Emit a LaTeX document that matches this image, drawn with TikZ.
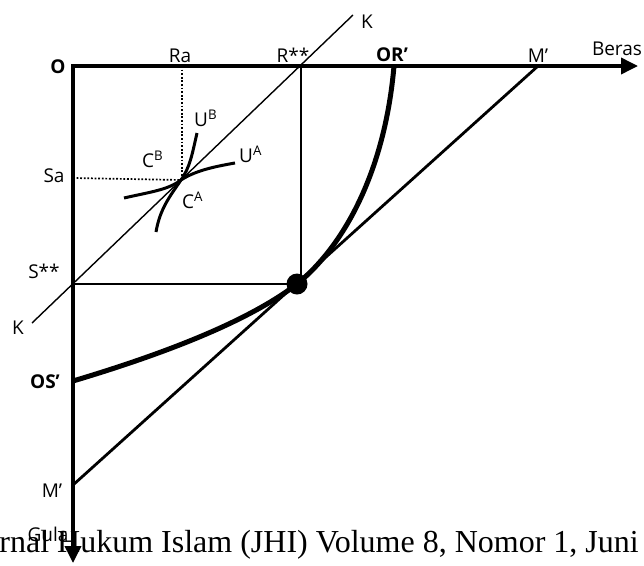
\documentclass[tikz,border=0pt]{standalone}
\usepackage{fontspec}
\setmainfont{Open Sans}
\newfontfamily\footfont{Liberation Serif}
\usetikzlibrary{arrows.meta}
\begin{document}
\begin{tikzpicture}[x=1pt,y=-1pt,
  axisline/.style={line width=3.6pt,line join=miter,{Triangle[length=17pt,width=16pt]}-{Triangle[length=17pt,width=16pt]}},
  thinline/.style={line width=1.8pt},
  kline/.style={line width=1.4pt},
  budget/.style={line width=2.8pt},
  ppf/.style={line width=5pt},
  indiff/.style={line width=3pt},
  dotline/.style={line width=1.7pt,dash pattern=on 1.8pt off 1.8pt},
  lab/.style={inner sep=0pt,anchor=base,font=\fontsize{19}{22}\selectfont},
  blab/.style={lab,font=\fontsize{19}{22}\selectfont\bfseries},
  slab/.style={inner sep=0pt,anchor=base west,font=\fontsize{19}{22}\selectfont}
]
\useasboundingbox (0,0) rectangle (644,565);
% key points
\coordinate (O) at (73,66);
\coordinate (xend) at (638,66);
\coordinate (yend) at (73,563);
\coordinate (Rss) at (301,66);
\coordinate (Sss) at (73,284);
\coordinate (Cor) at (301,284);
\coordinate (E) at (297,284);
\coordinate (Ra) at (182,66);
\coordinate (Sa) at (73,178);
\coordinate (T) at (181,180);
\coordinate (Ktop) at (353,15);
\coordinate (Kbot) at (32,323);
\coordinate (ORp) at (394,66);
\coordinate (OSp) at (73,381);
\coordinate (Mx) at (538,66);
\coordinate (My) at (73,485);
\coordinate (UBa) at (197,133);
\coordinate (UBb) at (156,232);
\coordinate (UAa) at (124,198);
\coordinate (UAb) at (235,163);

% box and dotted lines
\draw[thinline] (Rss) -- (Cor);
\draw[thinline] (Sss) -- (E);
\draw[dotline] (Sa) -- (T -| Ra);
\draw[dotline] (Ra) -- (T -| Ra);
% diagonal K
\draw[kline] (Kbot) -- (Ktop);
% budget line
\draw[budget] (My) -- (Mx);
% production frontier
\draw[ppf] (OSp) .. controls (170,352) and (250,320) .. (E)
  .. controls (345,245) and (385,170) .. (ORp);
% indifference curves
\draw[indiff] (UBa) .. controls (192,155) and (190,167) .. (T)
  .. controls (171,195) and (160,208) .. (UBb);
\draw[indiff] (UAa) .. controls (150,192) and (168,190) .. (T)
  .. controls (195,171) and (212,167) .. (UAb);
% axes
\draw[axisline] (xend) -- (O) -- (yend);
% tangency point
\fill (E) circle (10.5pt);

% labels
\node[blab] (lO) at (58,73) {O};
\node[lab] (lRa) at (180,62) {Ra};
\node[lab] (lR) at (293,62) {R**};
\node[blab] (lOR) at (392,61) {OR’};
\node[lab] (lM1) at (538,62) {M’};
\node[lab] (lB) at (617,55) {Beras};
\node[lab] (lK1) at (367,28) {K};
\node[lab] (lSa) at (54,182) {Sa};
\node[lab] (lS) at (44,278) {S**};
\node[lab] (lK2) at (18,334) {K};
\node[blab] (lOS) at (45,388) {OS’};
\node[lab] (lM2) at (52,497) {M’};
\node[lab] (lG) at (48,541) {Gula};
\node[slab] (lUB) at (194,126) {U\textsuperscript{B}};
\node[slab] (lCB) at (142,167) {C\textsuperscript{B}};
\node[slab] (lUA) at (239,162) {U\textsuperscript{A}};
\node[slab] (lCA) at (182,208) {C\textsuperscript{A}};
% footer text
\node[inner sep=0pt,anchor=base east,font=\footfont\fontsize{32}{36}\selectfont] (foot) at (639,552) {rnal Hukum Islam (JHI) Volume 8, Nomor 1, Juni};
\end{tikzpicture}
\end{document}
